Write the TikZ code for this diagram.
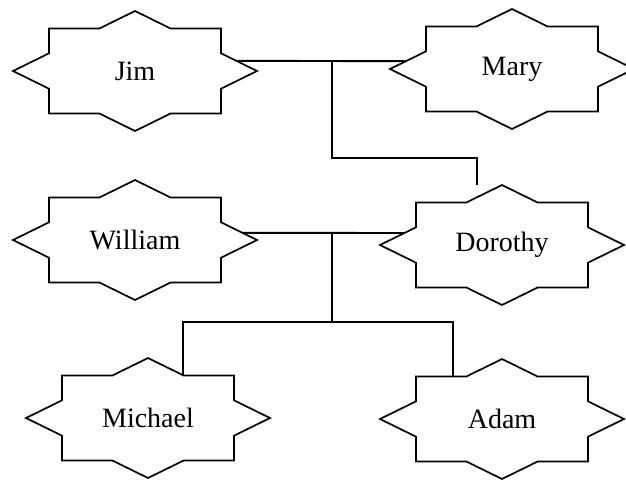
\documentclass[tikz,border=0pt]{standalone}
\usepackage{fontspec}
\setmainfont{Liberation Serif}
\usetikzlibrary{shapes.geometric,calc}
\begin{document}
\begin{tikzpicture}[x=1pt, y=-1pt, line width=1.9pt]
	\tikzstyle{person}  = [diamond, minimum width=244pt, minimum height=120pt, inner sep=0pt, outer sep=0pt, aspect=2, font=\fontsize{28}{30}\selectfont]
	\tikzstyle{outline} = [line width=1.7pt, line join=miter]

	\useasboundingbox (0,0) rectangle (626,480);

	\foreach \name/\lbl/\x/\y in {jim/Jim/135/71, mary/Mary/512/69, william/William/135/240, dorothy/Dorothy/502/245, michael/Michael/148/418, adam/Adam/502/419}
		\node[person] (\name) at (\x, \y) {\lbl};

	\foreach \name in {jim, mary, william, dorothy, michael, adam}
		\draw[outline, shift={(\name.center)}] (0,-60) -- (35.6,-42.5) -- (86,-42.5) -- (86,-17.7) -- (122,0) -- (86,17.7) -- (86,42.5) -- (35.6,42.5) -- (0,60) -- (-35.6,42.5) -- (-86,42.5) -- (-86,17.7) -- (-122,0) -- (-86,-17.7) -- (-86,-42.5) -- (-35.6,-42.5) -- cycle;

	\coordinate (jjoin) at (332,61);
	\coordinate (dtop) at (477,158);
	\coordinate (wjoin) at (332,233);
	\coordinate (kids) at (332,322);

	\draw ($(jim.east)!.17!(jim.north)$) -- ($(mary.west)!.13!(mary.north)$);
	\draw (jjoin) |- (dtop) -- (dtop |- dorothy.north);
	\draw ($(william.east)!.12!(william.north)$) -- ($(dorothy.west)!.2!(dorothy.north)$);
	\draw (wjoin) -- (kids);
	\draw ($(michael.north)!.29!(michael.east)$) |- (kids) -| ($(adam.center)+(-49,-42.5)$);

\end{tikzpicture}
\end{document}
